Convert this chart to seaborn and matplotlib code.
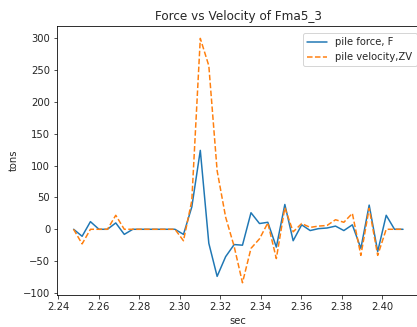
import pandas as pd

# visualization libraries
import matplotlib
matplotlib.use("Agg")
import matplotlib.pyplot as plt
import seaborn as sns

sns.set_style("white")
plt.rcParams['font.family'] = ['DejaVu Sans']

# time samples (sec)
sec = [2.2477, 2.2519, 2.2560, 2.2602, 2.2644, 2.2685, 2.2727, 2.2769,
       2.2810, 2.2852, 2.2894, 2.2935, 2.2977, 2.3019, 2.3060, 2.3102,
       2.3144, 2.3185, 2.3227, 2.3269, 2.3310, 2.3352, 2.3394, 2.3435,
       2.3477, 2.3519, 2.3560, 2.3602, 2.3644, 2.3685, 2.3727, 2.3769,
       2.3810, 2.3852, 2.3894, 2.3935, 2.3977, 2.4019, 2.4060, 2.4102]

# pile force, F (tons)
force = [0, -11, 12, 0, 0, 10, -8, 0, 0, 0, 0, 0, 0, -8, 35, 124,
         -22, -74, -43, -24, -25, 26, 9, 11, -28, 39, -18, 7, -2, 1,
         2, 5, -2, 7, -30, 38, -35, 22, 0, 0]

# pile velocity, ZV (tons)
velocity = [0, -23, 0, 0, 0, 22, 0, 0, 0, 0, 0, 0, 0, -18, 45, 300,
            257, 92, 19, -27, -84, -30, -15, 10, -46, 34, -4, 9, 3, 5,
            6, 15, 11, 25, -41, 33, -41, 0, 0, 0]


def load_data():
    df = pd.DataFrame({"sec": sec, "force": force, "velocity": velocity})
    return df


def plot1():
    df = load_data()
    fig, ax = plt.subplots(figsize=(417 / 72, 327 / 72), dpi=72)
    fig.subplots_adjust(left=0.137, right=1.006, bottom=0.098, top=0.92)

    sns.lineplot(x="sec", y="force", data=df, ax=ax, color="tab:blue",
                 linewidth=1.5, label="pile force, F")
    sns.lineplot(x="sec", y="velocity", data=df, ax=ax, color="tab:orange",
                 linewidth=1.5, linestyle="--", label="pile velocity,ZV")

    ax.set(xlabel="sec", ylabel="tons", title="Force vs Velocity of Fma5_3")
    ax.set_xticks([2.24, 2.26, 2.28, 2.30, 2.32, 2.34, 2.36, 2.38, 2.40])
    ax.set_xticklabels(["2.24", "2.26", "2.28", "2.30", "2.32", "2.34",
                        "2.36", "2.38", "2.40"])
    ax.tick_params(axis="both", which="both", bottom=True, left=True,
                   length=3.5, width=0.8, direction="out")
    for s in ax.spines.values():
        s.set_color("black")
        s.set_linewidth(0.8)
    # legend tucked into the upper right corner
    ax.legend(loc="upper right", bbox_to_anchor=(0.992, 0.974),
              borderaxespad=0)
    plt.savefig("out.png", dpi=72)


plot1()
